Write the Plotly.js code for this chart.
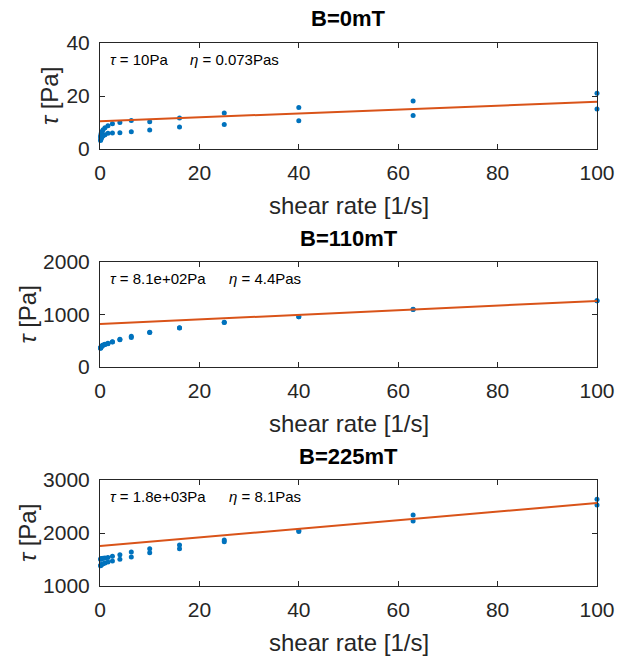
<!DOCTYPE html>
<html>
<head>
<meta charset="utf-8">
<script src="https://cdn.plot.ly/plotly-3.0.1.min.js"></script>
<style>html,body{margin:0;padding:0;background:#fff;}#chart{width:617px;height:657px;}</style>
</head>
<body>
<div id="chart"></div>
<script>
// shear rates [1/s] (two sweeps per field)
const shearRate = [0.1, 0.16, 0.25, 0.4, 0.63, 1, 1.6, 2.5, 4, 6.3, 10, 16, 25, 40, 63, 100];

// B = 0 mT
const tau0_up   = [4.5, 5.2, 5.9, 6.6, 7.3, 8.0, 8.8, 9.5, 10.0, 10.8, 10.3, 11.7, 13.6, 15.7, 18.1, 21.0];
const tau0_down = [3.2, 3.6, 4.0, 4.5, 5.0, 5.4, 5.9, 6.0, 6.1, 6.5, 7.2, 8.3, 9.2, 10.7, 12.6, 15.1];
const fit0 = [10.5, 0.073]; // [tau_y, eta]

// B = 110 mT
const tau110_up   = [360, 375, 390, 405, 420, 435, 452, 482, 527, 584, 661, 749, 851, 958, 1099, 1263];
const tau110_down = [355, 368, 382, 398, 412, 428, 445, 475, 520, 563, 655, 745, 848, 955, 1095, 1260];
const fit110 = [818, 4.4];

// B = 225 mT
const tau225_up   = [1505, 1510, 1515, 1520, 1525, 1530, 1540, 1560, 1590, 1641, 1704, 1774, 1868, 2045, 2340, 2636];
const tau225_down = [1380, 1390, 1400, 1410, 1420, 1435, 1455, 1472, 1504, 1547, 1628, 1704, 1836, 2030, 2226, 2528];
const fit225 = [1755, 8.1];

const titles = ['B=0mT', 'B=110mT', 'B=225mT'];
const tauLabels = ['10Pa', '8.1e+02Pa', '1.8e+03Pa'];
const etaLabels = ['0.073Pas', '4.4Pas', '8.1Pas'];
const etaXPos = [0.177, 0.256, 0.256];
const yRanges = [[0, 40], [0, 2000], [1000, 3000]];
const yDticks = [20, 1000, 1000];
const yTitleX = [49, 27, 27];

const fitX = [0, 100];
const W = 617, H = 657;
const xDom = [100 / W, 597 / W];
const yDoms = [[1 - 149 / H, 1 - 43 / H], [1 - 367 / H, 1 - 262 / H], [1 - 586 / H, 1 - 480 / H]];

const blue = '#0072BD', orange = '#D95319', axc = '#262626';
const font = 'Liberation Sans, Arial, sans-serif';

const sets = [[tau0_up, tau0_down, fit0], [tau110_up, tau110_down, fit110], [tau225_up, tau225_down, fit225]];
const traces = [];
const layout = {
  width: W, height: H, showlegend: false,
  margin: {l: 0, r: 0, t: 0, b: 0},
  paper_bgcolor: '#fff', plot_bgcolor: '#fff',
  font: {family: font, color: axc},
  annotations: []
};

sets.forEach((s, i) => {
  const xa = i === 0 ? 'x' : 'x' + (i + 1);
  const ya = i === 0 ? 'y' : 'y' + (i + 1);
  const xk = i === 0 ? 'xaxis' : 'xaxis' + (i + 1);
  const yk = i === 0 ? 'yaxis' : 'yaxis' + (i + 1);
  [s[0], s[1]].forEach(arr => traces.push({
    x: shearRate, y: arr, xaxis: xa, yaxis: ya, type: 'scatter', mode: 'markers',
    marker: {color: blue, size: 5}, cliponaxis: false, hoverinfo: 'skip'
  }));
  traces.push({
    x: fitX, y: fitX.map(v => s[2][0] + s[2][1] * v), xaxis: xa, yaxis: ya,
    type: 'scatter', mode: 'lines', line: {color: orange, width: 2}, hoverinfo: 'skip'
  });
  layout[xk] = {
    domain: xDom, anchor: ya, range: [0, 100], dtick: 20, tick0: 0,
    ticks: 'inside', ticklen: 5, tickcolor: axc, showline: true, linecolor: axc, linewidth: 1,
    mirror: 'ticks', showgrid: false, zeroline: false,
    tickfont: {family: font, size: 21, color: axc}, ticklabelstandoff: 5
  };
  layout[yk] = {
    domain: yDoms[i], anchor: xa, range: yRanges[i], dtick: yDticks[i],
    ticks: 'inside', ticklen: 5, tickcolor: axc, showline: true, linecolor: axc, linewidth: 1,
    mirror: 'ticks', showgrid: false, zeroline: false,
    tickfont: {family: font, size: 21, color: axc}, ticklabelstandoff: 5
  };
  const top = yDoms[i][1], bot = yDoms[i][0], mid = (top + bot) / 2;
  layout.annotations.push(
    {text: '<b>' + titles[i] + '</b>', xref: 'paper', yref: 'paper', x: (xDom[0] + xDom[1]) / 2, y: top + 24 / H,
     xanchor: 'center', yanchor: 'middle', showarrow: false, font: {family: font, size: 22, color: '#000'}},
    {text: 'shear rate [1/s]', xref: 'paper', yref: 'paper', x: (xDom[0] + xDom[1]) / 2, y: bot - 56 / H,
     xanchor: 'center', yanchor: 'middle', showarrow: false, font: {family: font, size: 24, color: axc}},
    {text: '<i>τ</i> [Pa]', xref: 'paper', yref: 'paper', x: yTitleX[i] / W, y: mid, textangle: -90,
     xanchor: 'center', yanchor: 'middle', showarrow: false, font: {family: font, size: 24, color: axc}},
    {text: '<i>τ</i> = ' + tauLabels[i], xref: xa + ' domain', yref: ya + ' domain', x: 0.016, y: 0.84,
     xanchor: 'left', yanchor: 'middle', showarrow: false, font: {family: font, size: 15, color: '#000'}},
    {text: '<i>η</i> = ' + etaLabels[i], xref: xa + ' domain', yref: ya + ' domain', x: etaXPos[i], y: 0.84,
     xanchor: 'left', yanchor: 'middle', showarrow: false, font: {family: font, size: 15, color: '#000'}}
  );
});

Plotly.newPlot('chart', traces, layout, {staticPlot: true, displayModeBar: false});
</script>
</body>
</html>
